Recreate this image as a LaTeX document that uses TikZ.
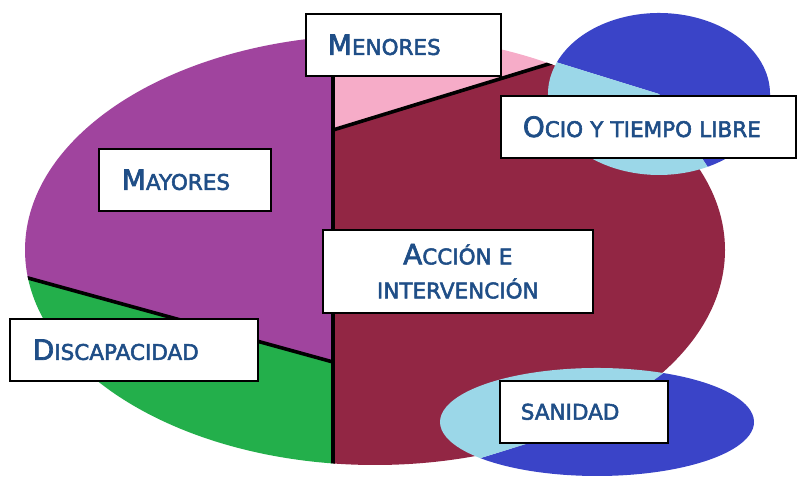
\documentclass[tikz,border=0pt]{standalone}
\usepackage{fontspec}
\setmainfont{DejaVu Sans}
\newfontfamily\labfont{DejaVu Sans}[FakeBold=2.5]
\definecolor{cpurple}{RGB}{160,68,158}
\definecolor{cpink}{RGB}{246,172,200}
\definecolor{cmaroon}{RGB}{146,38,68}
\definecolor{cgreen}{RGB}{35,175,75}
\definecolor{cblue}{RGB}{58,68,200}
\definecolor{clight}{RGB}{155,215,232}
\definecolor{ctext}{RGB}{31,78,135}
\newcommand\BL[1]{{\fontsize{28}{34}\selectfont #1}}
\tikzset{
  labelbox/.style={draw=black, line width=1.6pt, fill=white, anchor=north west,
    text=ctext, font=\labfont\fontsize{21.5}{34}\selectfont, align=left, inner ysep=0pt},
  divider/.style={line width=3.6pt, black}
}
\begin{document}
\begin{tikzpicture}[x=1pt,y=1pt]
\useasboundingbox (0,0) rectangle (797,478);
\fill[white] (0,0) rectangle (797,478);
% main ellipse
\begin{scope}
  \clip (375,228) ellipse [x radius=350pt, y radius=215pt];
  \fill[cpurple] (0,478) -- (333,478) -- (333,116) -- (0,207.7) -- cycle;
  \fill[cgreen] (0,207.7) -- (333,116) -- (333,0) -- (0,0) -- cycle;
  \fill[cpink] (333,348) -- (800,491) -- (800,500) -- (333,500) -- cycle;
  \fill[cmaroon] (333,348) -- (800,491) -- (800,0) -- (333,0) -- cycle;
  \coordinate (vtop) at (333,478);
  \coordinate (vbot) at (333,0);
  \coordinate (hub) at (333,348);
  \coordinate (rim) at (560,417.5);
  \coordinate (lhub) at (333,116);
  \coordinate (lrim) at (0,207.7);
  \draw[divider] (vtop) -- (vbot);
  \draw[divider] (hub) -- (rim);
  \draw[divider] (lhub) -- (lrim);
\end{scope}
% ocio ellipse
\coordinate (oc) at (659,384);
\fill[cblue] (oc) -- ++(296:111pt and 81pt) arc[start angle=296, end angle=517, x radius=111pt, y radius=81pt] -- cycle;
\fill[clight] (oc) -- ++(157:111pt and 81pt) arc[start angle=157, end angle=296, x radius=111pt, y radius=81pt] -- cycle;
% sanidad ellipse
\coordinate (sc) at (597,56);
\fill[cblue] (sc) -- ++(222:157pt and 54pt) arc[start angle=222, end angle=425, x radius=157pt, y radius=54pt] -- cycle;
\fill[clight] (sc) -- ++(65:157pt and 54pt) arc[start angle=65, end angle=222, x radius=157pt, y radius=54pt] -- cycle;
% labels
\node[labelbox, inner xsep=22pt, text width=151pt, minimum height=62pt] (menores) at (305,465) {\BL{M}ENORES};
\node[labelbox, inner xsep=22pt, text width=251pt, minimum height=62pt] (ocio) at (500,383) {\BL{O}CIO Y TIEMPO LIBRE};
\node[labelbox, inner xsep=23pt, text width=126pt, minimum height=62pt] (mayores) at (98,330) {\BL{M}AYORES};
\node[labelbox, inner xsep=10pt, text width=250pt, minimum height=83pt, align=center] (accion) at (322,249) {\BL{A}CCIÓN E\\INTERVENCIÓN};
\node[labelbox, inner xsep=23pt, text width=202pt, minimum height=62pt] (discap) at (9,160) {\BL{D}ISCAPACIDAD};
\node[labelbox, inner xsep=21pt, text width=126pt, minimum height=62pt] (sanidad) at (499,98) {SANIDAD};
\end{tikzpicture}
\end{document}
